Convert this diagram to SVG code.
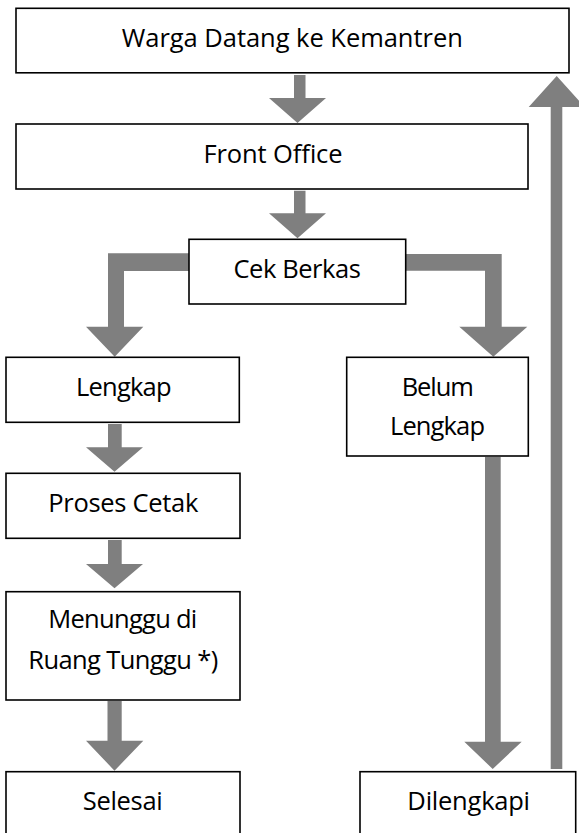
<svg xmlns="http://www.w3.org/2000/svg" width="579" height="833" viewBox="0 0 579 833">
<style>
.box{fill:#ffffff;stroke:#000000;stroke-width:1.6}
.lbl{font-family:"Open Sans","Liberation Sans",sans-serif;font-size:25.5px;fill:#000000;text-anchor:middle}
.arr{fill:#7f7f7f;stroke:none}
</style>
<rect width="579" height="833" fill="#ffffff"/>
<g id="connectors">
<path class="arr" d="M294,75 H305.5 V98 H326 L297.5,123 L269,98 H294 Z"/>
<path class="arr" d="M294,190.7 H305.5 V213.3 H326 L297.5,238.3 L269,213.3 H294 Z"/>
<path class="arr" d="M189,253.3 H108 V326.7 H86 L114.7,356.7 L143.3,326.7 H124 V271 H189 Z"/>
<path class="arr" d="M405.7,254 H501.7 V326.7 H527.3 L493.3,356.7 L459.3,326.7 H485 V270.7 H405.7 Z"/>
<path class="arr" d="M108,424 H121.7 V447.3 H143 L114.5,471.7 L86,447.3 H108 Z"/>
<path class="arr" d="M108,540 H121.7 V564 H143 L114.5,588.3 L86,564 H108 Z"/>
<path class="arr" d="M107.5,701 H121.7 V740.7 H143.3 L114.5,770.7 L86,740.7 H107.5 Z"/>
<path class="arr" d="M485,457 H500.7 V741.7 H521.7 L492.7,769 L464.3,741.7 H485 Z"/>
<path class="arr" d="M550.7,769 H562.3 V107 H584.7 L556.7,76 L528.7,107 H550.7 Z"/>
</g>
<g id="warga">
<rect class="box" x="16" y="8.3" width="553" height="64.5"/>
<text class="lbl" x="292.3" y="46.7" textLength="341">Warga Datang ke Kemantren</text>
</g>
<g id="front-office">
<rect class="box" x="16" y="124" width="512" height="65"/>
<text class="lbl" x="273" y="163.3" textLength="139">Front Office</text>
</g>
<g id="cek-berkas">
<rect class="box" x="189" y="239.3" width="216.7" height="64.7"/>
<text class="lbl" x="297.2" y="277.7" textLength="127.5">Cek Berkas</text>
</g>
<g id="lengkap">
<rect class="box" x="6" y="357.3" width="233.3" height="65"/>
<text class="lbl" x="123.8" y="395.7" textLength="95.5">Lengkap</text>
</g>
<g id="belum-lengkap">
<rect class="box" x="346.7" y="357.3" width="181.6" height="98.7"/>
<text class="lbl" x="437.8" y="395.7" textLength="72.3">Belum</text>
<text class="lbl" x="437.5" y="435" textLength="95">Lengkap</text>
</g>
<g id="proses-cetak">
<rect class="box" x="6" y="473.3" width="234" height="65"/>
<text class="lbl" x="123.3" y="511.7" textLength="150">Proses Cetak</text>
</g>
<g id="menunggu">
<rect class="box" x="6" y="591.7" width="234" height="108.3"/>
<text class="lbl" x="122.8" y="628.3" textLength="149">Menunggu di</text>
<text class="lbl" x="123.3" y="669.3" textLength="190">Ruang Tunggu *)</text>
</g>
<g id="selesai">
<rect class="box" x="6" y="771.7" width="234" height="70"/>
<text class="lbl" x="122.7" y="810" textLength="80">Selesai</text>
</g>
<g id="dilengkapi">
<rect class="box" x="360" y="771.7" width="215.7" height="70"/>
<text class="lbl" x="468.7" y="810" textLength="122.7">Dilengkapi</text>
</g>
</svg>
